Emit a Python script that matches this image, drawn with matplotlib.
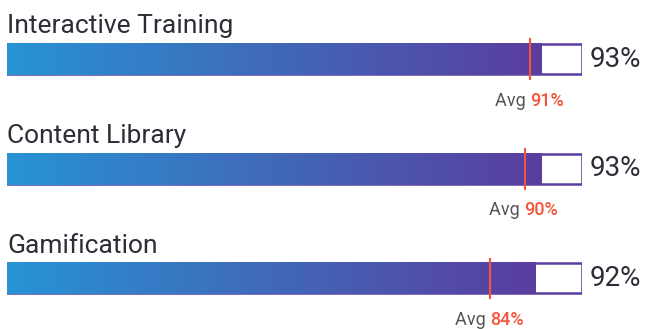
import numpy as np
import matplotlib
matplotlib.use('Agg')
import matplotlib.pyplot as plt
from matplotlib.patches import Rectangle
from matplotlib.colors import LinearSegmentedColormap

# data
categories = ['Interactive Training', 'Content Library', 'Gamification']
scores = [93, 93, 92]
averages = [91, 90, 84]

blue = '#2794d4'
purple = '#5a3d9f'
red = '#f4553a'
cmap = LinearSegmentedColormap.from_list('bar', [blue, purple])

plt.rcParams['font.family'] = ['Roboto', 'DejaVu Sans']

fig = plt.figure(figsize=(6.45, 3.29), dpi=100)
ax = fig.add_axes([7 / 645, 0, 575 / 645, 1])
ax.set_xlim(0, 100)
ax.set_ylim(2.461, -0.539)
ax.axis('off')

h = 0.274
grad = np.linspace(0, 1, 256).reshape(1, -1)
for i, (name, val, avg) in enumerate(zip(categories, scores, averages)):
    ax.add_patch(Rectangle((0, i - h / 2), 100, h, facecolor='white',
                           edgecolor=purple, lw=1.8, zorder=1))
    # グラデーション部分
    ax.imshow(grad, cmap=cmap, aspect='auto',
              extent=[-0.2, val, i + h / 2 + 0.008, i - h / 2 - 0.008], zorder=2)
    ax.plot([avg, avg], [i - 0.18, i + 0.18], color=red, lw=1.5, zorder=3)
    ax.text(0, i - 0.235, name, fontsize=19, color='#2d2d38', ha='left',
            va='baseline')
    ax.text(101.4, i, f'{val}%', fontsize=20, color='#2d2d38', ha='left',
            va='center')
    ax.text(avg, i + 0.38, 'Avg ', fontsize=13, color='#555555', ha='right',
            va='center')
    ax.text(avg, i + 0.38, f'{avg}%', fontsize=13, color=red, ha='left',
            va='center', fontweight='medium')

ax.set_xlim(0, 100)
ax.set_ylim(2.461, -0.539)
fig.savefig('out.png', dpi=100)
